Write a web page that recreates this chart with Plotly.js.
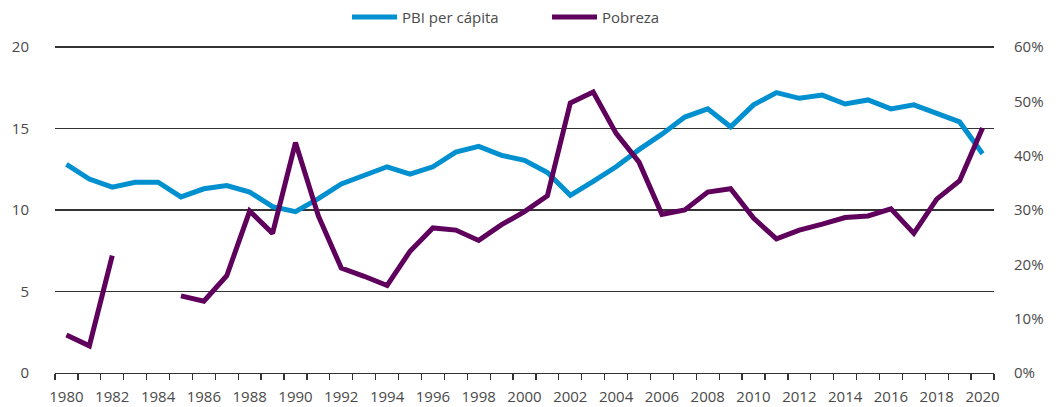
<!DOCTYPE html>
<html>
<head>
<meta charset="utf-8">
<script src="https://cdn.plot.ly/plotly-3.0.1.min.js"></script>
<style>html,body{margin:0;padding:0;background:#fff;}#chart{width:1060px;height:407px;}</style>
</head>
<body>
<div id="chart"></div>
<script>
const years = [1980,1981,1982,1983,1984,1985,1986,1987,1988,1989,1990,1991,1992,1993,1994,1995,1996,1997,1998,1999,2000,2001,2002,2003,2004,2005,2006,2007,2008,2009,2010,2011,2012,2013,2014,2015,2016,2017,2018,2019,2020];
const pbiPerCapita = [12.8,11.9,11.4,11.7,11.7,10.8,11.3,11.5,11.1,10.2,9.9,10.7,11.6,12.1,12.65,12.2,12.65,13.55,13.9,13.35,13.05,12.3,10.9,11.75,12.65,13.7,14.65,15.7,16.2,15.1,16.45,17.2,16.85,17.05,16.5,16.75,16.2,16.45,15.9,15.4,13.45];
const pobreza = [7.0,5.0,21.6,null,null,14.2,13.2,17.9,29.8,25.7,42.4,28.9,19.3,17.8,16.1,22.4,26.7,26.3,24.4,27.3,29.7,32.6,49.7,51.7,44.1,38.8,29.2,30.0,33.3,33.9,28.5,24.7,26.3,27.4,28.6,28.9,30.2,25.7,32.0,35.4,45.1];
const labelYears = [1980,1982,1984,1986,1988,1990,1992,1994,1996,1998,2000,2002,2004,2006,2008,2010,2012,2014,2016,2018,2020];
const leftTicks = [0, 5, 10, 15, 20];
const rightTicks = [0, 10, 20, 30, 40, 50, 60];

const font = {family: 'Open Sans, sans-serif', size: 15, color: '#4a4a4a'};

const traces = [
  {x: years, y: pbiPerCapita, name: 'PBI per cápita', type: 'scatter', mode: 'lines',
   line: {color: '#0090cf', width: 5}, yaxis: 'y'},
  {x: years, y: pobreza, name: 'Pobreza', type: 'scatter', mode: 'lines',
   line: {color: '#5e005c', width: 5}, yaxis: 'y2', connectgaps: false}
];

const layout = {
  width: 1060, height: 407,
  margin: {l: 55, r: 66, t: 45, b: 34, autoexpand: false},
  paper_bgcolor: '#fff', plot_bgcolor: '#fff',
  font: font,
  showlegend: true,
  legend: {orientation: 'h', x: 0.311, xanchor: 'left', y: 1.135, yanchor: 'top',
           font: font, itemwidth: 45,
           entrywidth: 140, entrywidthmode: 'pixels', bgcolor: 'rgba(0,0,0,0)'},
  xaxis: {type: 'linear', range: [years[0] - 0.5, years[years.length - 1] + 0.5],
          tickvals: labelYears, ticks: '', ticklabelstandoff: 10,
          minor: {ticks: 'outside', tick0: years[0] - 0.5, dtick: 1, ticklen: 6, tickcolor: '#333', tickwidth: 1.3, showgrid: false},
          showline: true, linecolor: '#333', linewidth: 1.3, showgrid: false, zeroline: false,
          tickangle: 0, tickfont: font},
  yaxis: {range: [0, 20.12], tickvals: leftTicks, showgrid: true, gridcolor: '#333', gridwidth: 1.2,
          zeroline: false, showline: false, ticks: '', ticklabelstandoff: 25, tickfont: font},
  yaxis2: {range: [0, 60.36], tickvals: rightTicks, ticktext: rightTicks.map(v => v + '%'),
           overlaying: 'y', side: 'right',
           showgrid: false, zeroline: false, showline: false, ticks: '', ticklabelstandoff: 19, tickfont: font}
};

Plotly.newPlot('chart', traces, layout, {displayModeBar: false, staticPlot: true});
</script>
</body>
</html>
